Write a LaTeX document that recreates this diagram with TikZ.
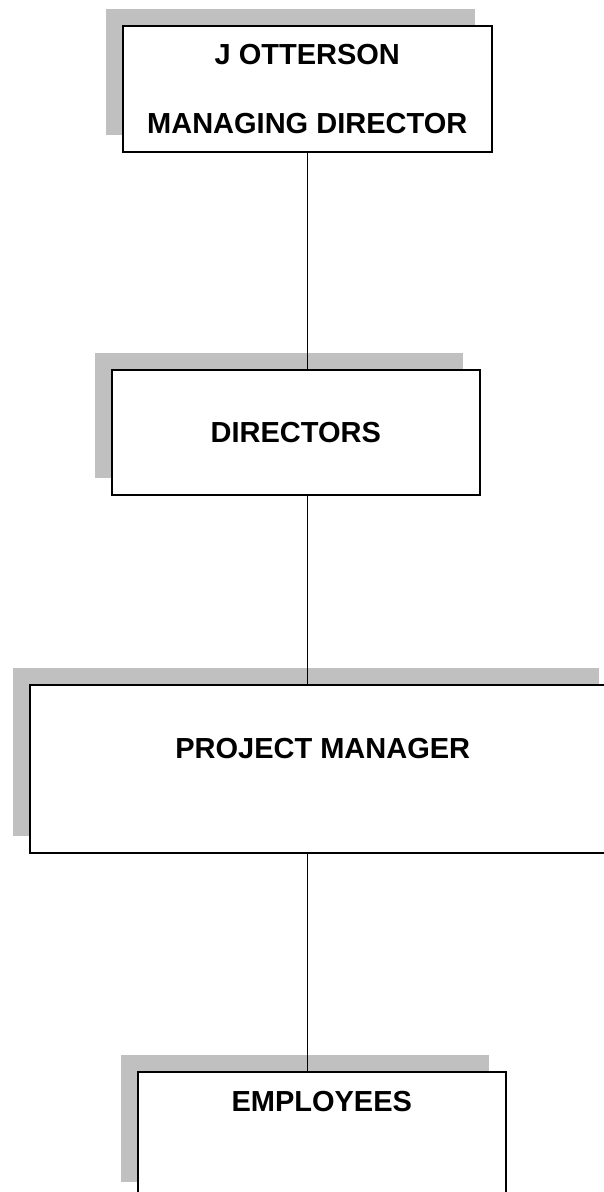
\documentclass[tikz,border=0pt]{standalone}
\usepackage{fontspec}
\setmainfont{Liberation Sans}
\usepackage{tikz}
\usetikzlibrary{shadows}
\definecolor{shadegray}{RGB}{192,192,192}

\begin{document}
\begin{tikzpicture}[x=1pt, y=-1pt,
    post/.style={rectangle, draw, line width=1.5pt, fill=white, inner sep=0pt, anchor=north west,
        font=\fontsize{29}{69}\selectfont\bfseries,
        general shadow={fill=shadegray, shadow xshift=-17pt, shadow yshift=17pt}},
    link/.style={line width=1.3pt, -}
]
\useasboundingbox (0,0) rectangle (603,1192);

% Define boxes
\node[post, align=center, minimum width=369pt, minimum height=126pt] (md) at (122, 25) {J OTTERSON\\MANAGING DIRECTOR};
\node[post, minimum width=368pt, minimum height=125pt] (dir) at (111, 369) {DIRECTORS};
\node[post, minimum width=586pt, text height=74pt, text depth=94pt] (pm) at (29, 684) {PROJECT MANAGER};
\node[post, minimum width=368pt, text height=40pt, text depth=87pt] (emp) at (137, 1071) {EMPLOYEES};

% Define lines
\draw[link] (md.south) -- (md.south |- dir.north);
\draw[link] (dir.south -| md.south) -- (md.south |- pm.north);
\draw[link] (pm.south -| md.south) -- (md.south |- emp.north);

\end{tikzpicture}
\end{document}
